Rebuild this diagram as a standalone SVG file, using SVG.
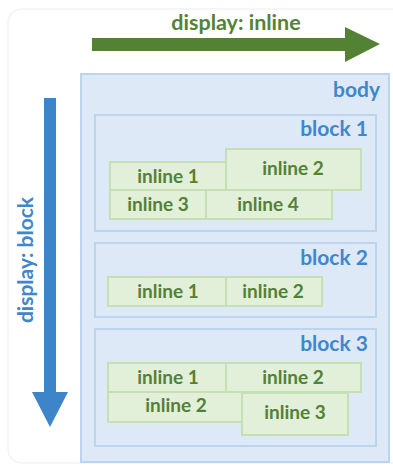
<svg xmlns="http://www.w3.org/2000/svg" width="393" height="466" viewBox="0 0 393 466">
  <style>
    .card { fill: #ffffff; stroke: #f3f3f3; stroke-width: 1.5; }
    .body { fill: #dde9f6; stroke: #bcd5ef; stroke-width: 2; }
    .block { fill: #dde9f6; stroke: #bcd5ef; stroke-width: 2; }
    .inl { fill: #e2efd9; stroke: #c5e0b3; stroke-width: 2; }
    .blue { font-family: Lato, "Open Sans", sans-serif; font-weight: bold; fill: #3f87cc; font-size: 21px; }
    .green { font-family: Lato, "Open Sans", sans-serif; font-weight: bold; fill: #538135; font-size: 19px; text-anchor: middle; }
    .title { font-family: Lato, "Open Sans", sans-serif; font-weight: bold; fill: #548235; font-size: 21.5px; text-anchor: middle; }
  </style>

  <!-- background card -->
  <rect class="card" x="8" y="9" width="400" height="454" rx="14"/>

  <!-- direction arrows -->
  <g id="connectors">
    <g id="arrow-inline">
      <polygon fill="#548235" points="92,38 345,38 345,27 380,44 345,62 345,51 92,51"/>
      <text class="title" x="236" y="30">display: inline</text>
    </g>
    <g id="arrow-block">
      <polygon fill="#3d85c8" points="44,98 56,98 56,392 68,392 50,427 32,392 44,392"/>
      <text class="blue" transform="translate(33,260) rotate(-90)" text-anchor="middle">display: block</text>
    </g>
  </g>

  <!-- body -->
  <g id="body">
    <rect class="body" x="81" y="74" width="308" height="388"/>
    <text class="blue" x="380" y="97" text-anchor="end">body</text>
  </g>

  <!-- block 1 -->
  <g id="block1">
    <rect class="block" x="95" y="115" width="281" height="116"/>
    <text class="blue" x="368" y="136" text-anchor="end">block 1</text>
    <g id="b1-inline1"><rect class="inl" x="110" y="162" width="116" height="28"/><text class="green" x="168" y="183">inline 1</text></g>
    <g id="b1-inline2"><rect class="inl" x="226" y="149" width="135" height="41"/><text class="green" x="293" y="175">inline 2</text></g>
    <g id="b1-inline3"><rect class="inl" x="110" y="190" width="96" height="29"/><text class="green" x="158" y="211">inline 3</text></g>
    <g id="b1-inline4"><rect class="inl" x="206" y="190" width="126" height="29"/><text class="green" x="268" y="211">inline 4</text></g>
  </g>

  <!-- block 2 -->
  <g id="block2">
    <rect class="block" x="95" y="243" width="281" height="74"/>
    <text class="blue" x="368" y="265" text-anchor="end">block 2</text>
    <g id="b2-inline1"><rect class="inl" x="108" y="277" width="118" height="29"/><text class="green" x="168" y="298">inline 1</text></g>
    <g id="b2-inline2"><rect class="inl" x="226" y="277" width="96" height="29"/><text class="green" x="273" y="298">inline 2</text></g>
  </g>

  <!-- block 3 -->
  <g id="block3">
    <rect class="block" x="95" y="329" width="281" height="117"/>
    <text class="blue" x="368" y="351" text-anchor="end">block 3</text>
    <g id="b3-inline1"><rect class="inl" x="108" y="363" width="118" height="29"/><text class="green" x="168" y="384">inline 1</text></g>
    <g id="b3-inline2"><rect class="inl" x="226" y="363" width="135" height="29"/><text class="green" x="293" y="384">inline 2</text></g>
    <g id="b3-inline2b"><rect class="inl" x="108" y="392" width="134" height="30"/><text class="green" x="176" y="412">inline 2</text></g>
    <g id="b3-inline3"><rect class="inl" x="242" y="393" width="106" height="42"/><text class="green" x="295" y="419">inline 3</text></g>
  </g>
</svg>
